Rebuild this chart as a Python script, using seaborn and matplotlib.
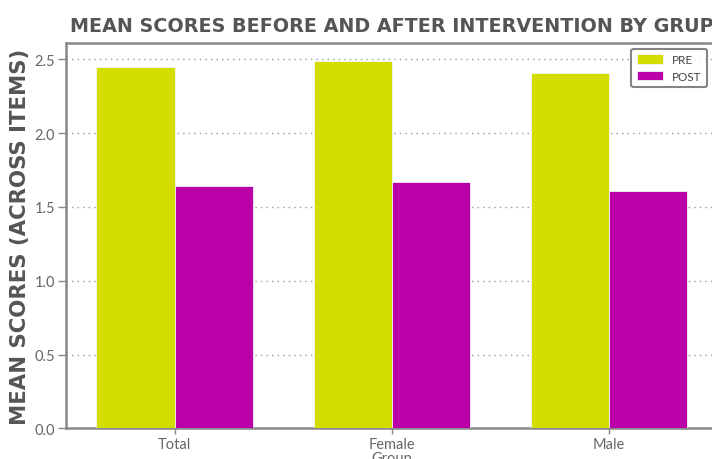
import matplotlib
matplotlib.use("Agg")
import matplotlib.pyplot as plt
import seaborn as sns
import pandas as pd

groups = ["Total", "Female", "Male"]
pre_scores = [2.45, 2.49, 2.41]
post_scores = [1.64, 1.67, 1.61]
phases = ["PRE", "POST"]
colors = ["#d4dd00", "#bb00aa"]

df = pd.DataFrame({
    "Group": groups * 2,
    "Score": pre_scores + post_scores,
    "Phase": [phases[0]] * len(groups) + [phases[1]] * len(groups),
})

sns.set_theme(style="white")
plt.rcParams["font.family"] = ["Lato", "DejaVu Sans"]

W, H = 712, 460
fig = plt.figure(figsize=(W / 100, H / 100), dpi=100)
ax_l, ax_r, ax_b, ax_t = 66, 717.5, 429.3, 43.5
ax = fig.add_axes([ax_l / W, (H - ax_b) / H, (ax_r - ax_l) / W, (ax_b - ax_t) / H])

sns.barplot(data=df, x="Group", y="Score", hue="Phase", palette=colors, saturation=1,
            width=0.72, gap=0, edgecolor="#f4f4f4", linewidth=0.6, ax=ax, zorder=3)

ax.set_ylim(0, 2.615)
ax.set_xlim(-0.5, 2.5)
ax.set_yticks([0.0, 0.5, 1.0, 1.5, 2.0, 2.5])
ax.set_yticklabels(["0.0", "0.5", "1.0", "1.5", "2.0", "2.5"])
ax.yaxis.grid(True, linestyle=(0, (1, 3)), color="#999999", linewidth=1.0, zorder=0)
ax.set_axisbelow(True)

gray = "#666666"
for s in ["left", "top", "bottom", "right"]:
    ax.spines[s].set_color("#888888")
    ax.spines[s].set_linewidth(1.8)

ax.tick_params(axis="y", which="both", direction="out", length=6, width=1,
               color="#888888", labelcolor=gray, labelsize=10.5, left=True, pad=2)
ax.tick_params(axis="x", which="both", direction="out", length=4, width=1,
               color="#888888", labelcolor=gray, labelsize=10.5, bottom=True, pad=2)

ax.set_xlabel("Group", fontsize=10.5, color=gray, labelpad=0)
ax.set_ylabel("MEAN SCORES (ACROSS ITEMS)", fontsize=15.3, fontweight="bold",
              family="DejaVu Sans", color="#555555", labelpad=3)
ax.set_title("MEAN SCORES BEFORE AND AFTER INTERVENTION BY GRUP",
             fontsize=13.8, fontweight="bold", family="DejaVu Sans",
             color="#555555", pad=8)

leg = ax.legend(loc="upper right", bbox_to_anchor=(707 / W, (H - 50) / H),
                bbox_transform=fig.transFigure, borderaxespad=0, frameon=True,
                fancybox=True, fontsize=8.5, handlelength=2.2, handleheight=0.9,
                labelcolor="#444444", borderpad=0.45, labelspacing=0.45)
leg.get_frame().set_edgecolor("#666666")
leg.get_frame().set_linewidth(1.5)

fig.savefig("out.png", dpi=100)
